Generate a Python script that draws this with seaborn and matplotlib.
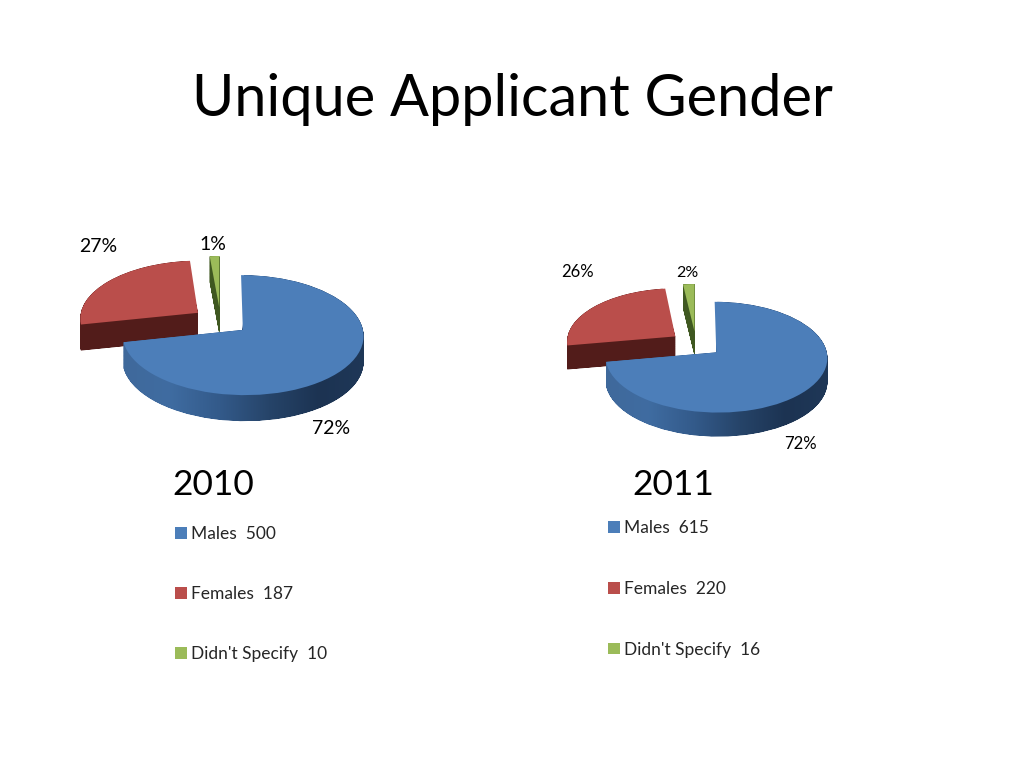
import numpy as np
import matplotlib
matplotlib.use('Agg')
import matplotlib.pyplot as plt
import seaborn as sns
from matplotlib.colors import LinearSegmentedColormap
from matplotlib.patches import PathPatch, Wedge
from matplotlib.path import Path
from matplotlib.transforms import Affine2D, Transform

# ── Data ──────────────────────────────────────────────
categories = ['Males', 'Females', "Didn't Specify"]
values_2010 = [500, 187, 10]
values_2011 = [615, 220, 16]
pct_2010 = ['72%', '27%', '1%']
pct_2011 = ['72%', '26%', '2%']
years = ['2010', '2011']

sns.set_theme(style='white')
plt.rcParams['font.family'] = ['Lato', 'DejaVu Sans']

top_colors = sns.color_palette(['#4c7eb9', '#ba4e4b', '#9bbb59'])
side_colors = ['#3f6ca1', '#521c1a', '#3f5821']
blue_side = LinearSegmentedColormap.from_list(
    'blue_side', ['#40699b', '#3f6ca1', '#335a8a', '#264469', '#1c3352', '#1f3858'])

W, H = 1024, 768
EXPLODE = 0.24


class Tilt(Transform):
    # slight perspective so the near side of the pie looks larger
    input_dims = 2
    output_dims = 2
    is_separable = False

    def __init__(self, k):
        super().__init__()
        self.k = k

    def transform_non_affine(self, xy):
        xy = np.asarray(xy, dtype=float)
        d = 1 + self.k * xy[:, 1]
        return np.column_stack([xy[:, 0] / d, xy[:, 1] / d])


def pie_3d(fig, values, cx, cy, rx, ry, depth_px, k=0.086):
    # axes placed so one data unit is rx px wide and ry px tall
    ax = fig.add_axes([(cx - 1.6 * rx) / W, 1 - (cy + 1.9 * ry) / H,
                       3.2 * rx / W, 3.8 * ry / H])
    wedges, _ = ax.pie(values, startangle=90, counterclock=False,
                       explode=[EXPLODE] * len(values), colors=top_colors,
                       wedgeprops={'linewidth': 0})
    ax.set_aspect('auto')

    tilt = Tilt(k)
    depth = depth_px / ry
    for i, base in [(1, 1), (2, 3), (0, 5)]:
        w = wedges[i]
        # trim the hidden radial edge so the extrusion does not peek out beside it
        t1, t2 = w.theta1, w.theta2
        if i == 0:
            t2 -= 1.5
        elif i == 1:
            t1 += 1.5
        rim = Wedge(w.center, w.r, t1, t2).get_path()
        layers = [Affine2D().translate(0, -d).transform_path(tilt.transform_path(rim))
                  for d in np.linspace(0, depth, 60)]
        side = Path.make_compound_path(*layers)
        if i == 0:
            grad = np.linspace(0, 1, 256).reshape(1, -1)
            im = ax.imshow(grad, cmap=blue_side, aspect='auto', zorder=base,
                           extent=[-0.85, 1.25, -2, 1.5])
            im.set_clip_path(side, ax.transData)
        else:
            ax.add_patch(PathPatch(side, fc=side_colors[i], ec='none', zorder=base))
        w.set_transform(tilt + ax.transData)
        w.set_zorder(base + 1)
    ax.set_xlim(-1.6, 1.6)
    ax.set_ylim(-1.9, 1.9)
    return wedges


def px_text(fig, x, y, s, size):
    fig.text(x / W, 1 - y / H, s, fontsize=size, ha='center', va='center', color='black')


fig = plt.figure(figsize=(W / 100, H / 100), dpi=100)

wedges_a = pie_3d(fig, values_2010, 220.5, 321, 118.5, 58, 26)
wedges_b = pie_3d(fig, values_2011, 696, 344, 109, 53.5, 24)

px_text(fig, 512, 100, 'Unique Applicant Gender', 41.5)

px_text(fig, 331, 429, pct_2010[0], 14)
px_text(fig, 98, 247, pct_2010[1], 14)
px_text(fig, 213, 244, pct_2010[2], 14)
px_text(fig, 800, 444, pct_2011[0], 12)
px_text(fig, 578, 272, pct_2011[1], 12)
px_text(fig, 687, 273, pct_2011[2], 11.5)

px_text(fig, 213, 485, years[0], 25.5)
px_text(fig, 673, 485, years[1], 25.5)

for wedges, vals, x, y, gap in [(wedges_a, values_2010, 175, 526, 2.53),
                                (wedges_b, values_2011, 608, 520, 2.58)]:
    labels = [f'{c}  {v}' for c, v in zip(categories, vals)]
    fig.legend(wedges, labels, loc='upper left', bbox_to_anchor=(x / W, 1 - y / H),
               frameon=False, fontsize=12.5, labelspacing=gap, handlelength=0.68,
               handleheight=0.68, handletextpad=0.25, borderpad=0, borderaxespad=0)

plt.savefig('out.png', dpi=100)
